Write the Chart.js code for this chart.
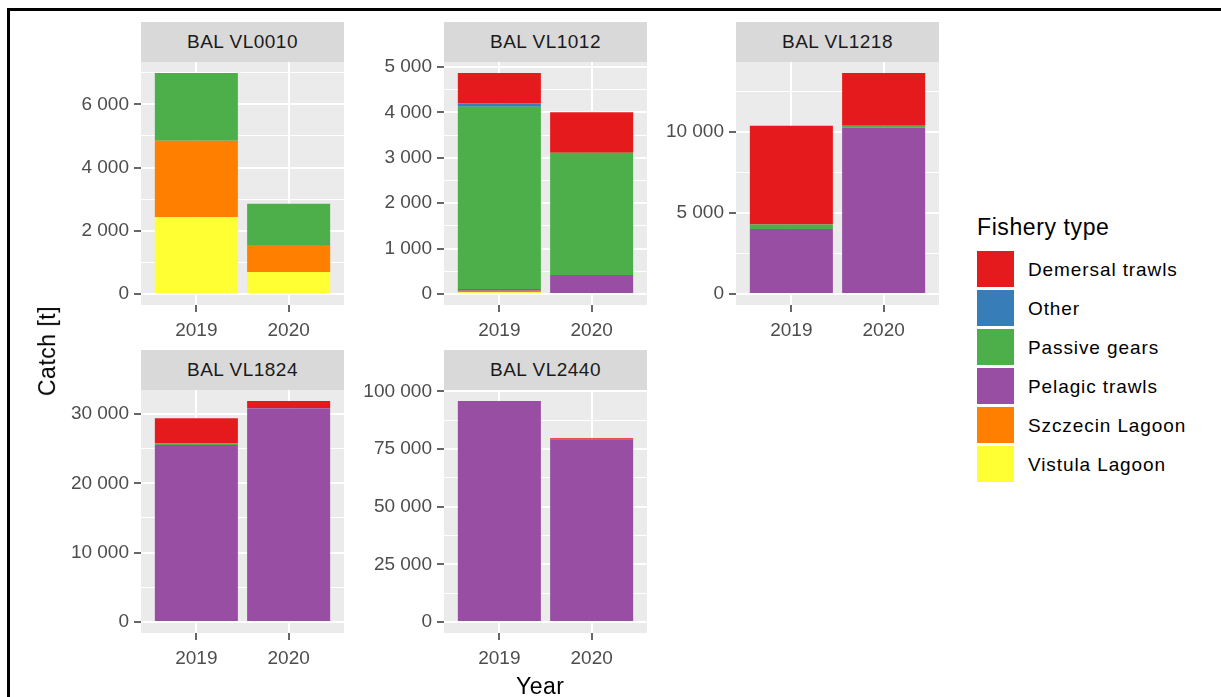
<!DOCTYPE html>
<html>
<head>
<meta charset="utf-8">
<script src="https://cdn.jsdelivr.net/npm/chart.js@4.4.1/dist/chart.umd.min.js"></script>
<style>
  html, body { margin: 0; padding: 0; background: #ffffff; }
  body { width: 1221px; height: 697px; overflow: hidden; position: relative; font-family: "Liberation Sans", Arial, sans-serif; }
  .frame-top { position: absolute; left: 7px; top: 8px; width: 1214px; height: 3px; background: #000; }
  .frame-left { position: absolute; left: 7px; top: 8px; width: 3px; height: 689px; background: #000; }
  .cv { position: absolute; }
  .strip { position: absolute; background: #D9D9D9; color: #1A1A1A; font-size: 19px; letter-spacing: 0.5px; display: flex; align-items: center; justify-content: center; white-space: nowrap; }
  .axis-title { position: absolute; color: #000; font-size: 23px; letter-spacing: 0.5px; white-space: nowrap; line-height: 26px; }
  .legend-title { position: absolute; left: 977px; top: 214px; font-size: 23px; letter-spacing: 0.6px; line-height: 26px; color: #000; white-space: nowrap; }
  .legend-key { position: absolute; left: 977px; width: 37px; height: 36px; }
  .legend-label { position: absolute; left: 1028px; font-size: 19px; letter-spacing: 0.9px; line-height: 36px; height: 36px; color: #000; white-space: nowrap; }
</style>
</head>
<body>
<div class="frame-top"></div>
<div class="frame-left"></div>
<div id="root"></div>
<script>
// ---- Data ----
const fleets = ['BAL VL0010', 'BAL VL1012', 'BAL VL1218', 'BAL VL1824', 'BAL VL2440'];
const years = ['2019', '2020'];
const fisheryTypes = ['Demersal trawls', 'Other', 'Passive gears', 'Pelagic trawls', 'Szczecin Lagoon', 'Vistula Lagoon'];
const typeColors = ['#E41A1C', '#377EB8', '#4DAF4A', '#984EA3', '#FF7F00', '#FFFF33'];

// catch [t] per fleet: [2019, 2020]
const demersalTrawls = [[0, 0], [670, 896], [6090, 3250], [3650, 1010], [0, 480]];
const otherGears     = [[0, 0], [73, 0], [0, 0], [0, 0], [0, 0]];
const passiveGears   = [[2140, 1300], [4016, 2692], [266, 105], [200, 30], [0, 0]];
const pelagicTrawls  = [[0, 0], [40, 419], [4012, 10265], [25530, 30820], [95790, 79170]];
const szczecinLagoon = [[2422, 856], [35, 0], [0, 0], [0, 0], [0, 0]];
const vistulaLagoon  = [[2430, 697], [35, 0], [0, 0], [0, 0], [0, 0]];

// y-axis major tick step per panel
const yTickSteps = [2000, 1000, 5000, 10000, 25000];

const seriesByType = [demersalTrawls, otherGears, passiveGears, pelagicTrawls, szczecinLagoon, vistulaLagoon];

// ---- Layout ----
const panelLeft = [141, 444, 736, 141, 444];
const panelTop = [62, 62, 62, 390, 390];
const panelW = 203, panelH = 243, stripH = 40;
const axisW = 120, axisH = 50, padTop = 20, padRight = 10;
const FONT = '"Liberation Sans", Arial, sans-serif';

function fmt(v) {
  return String(Math.round(v)).replace(/\B(?=(\d{3})+(?!\d))/g, ' ');
}

const panelBg = {
  id: 'panelBg',
  beforeDraw(chart) {
    const a = chart.chartArea, c = chart.ctx;
    c.save();
    c.fillStyle = '#EBEBEB';
    c.fillRect(a.left, a.top, a.right - a.left, a.bottom - a.top);
    c.restore();
  }
};

const root = document.getElementById('root');

fleets.forEach((fleet, i) => {
  const totals = years.map((y, j) => seriesByType.reduce((s, arr) => s + arr[i][j], 0));
  const maxTotal = Math.max(...totals);

  const wrap = document.createElement('div');
  wrap.className = 'cv';
  wrap.style.left = (panelLeft[i] - axisW) + 'px';
  wrap.style.top = (panelTop[i] - padTop) + 'px';
  const canvas = document.createElement('canvas');
  canvas.width = axisW + panelW + padRight;
  canvas.height = padTop + panelH + axisH;
  canvas.style.width = canvas.width + 'px';
  canvas.style.height = canvas.height + 'px';
  wrap.appendChild(canvas);
  root.appendChild(wrap);

  const datasets = fisheryTypes.map((name, t) => ({
    label: name,
    data: years.map((y, j) => ({ x: j + 1, y: seriesByType[t][i][j] })),
    backgroundColor: typeColors[t],
    borderWidth: 0,
    barPercentage: 0.9,
    categoryPercentage: 1
  })).reverse();

  new Chart(canvas.getContext('2d'), {
    type: 'bar',
    data: { datasets },
    plugins: [panelBg],
    options: {
      responsive: false,
      animation: false,
      events: [],
      layout: { padding: { top: padTop, right: padRight, left: 0, bottom: 0 } },
      plugins: { legend: { display: false }, tooltip: { enabled: false }, title: { display: false } },
      scales: {
        x: {
          type: 'linear',
          stacked: true,
          min: 0.4,
          max: 2.6,
          offset: false,
          afterBuildTicks: s => { s.ticks = years.map((y, j) => ({ value: j + 1 })); },
          afterFit: s => { s.height = axisH; },
          ticks: {
            autoSkip: false, maxRotation: 0, minRotation: 0, padding: 7,
            color: '#4D4D4D', font: { family: FONT, size: 19 },
            callback: (v, idx) => years[idx]
          },
          grid: { color: '#FFFFFF', lineWidth: 2, tickColor: '#333333', tickLength: 7, tickWidth: 1.5, offset: false, drawTicks: true },
          border: { display: false }
        },
        y: {
          type: 'linear',
          stacked: true,
          min: -0.05 * maxTotal,
          max: 1.05 * maxTotal,
          afterBuildTicks: s => {
            const st = yTickSteps[i];
            const ticks = [];
            for (let v = 0; v <= s.max; v += st / 2) {
              ticks.push({ value: v, isMajor: (v % st) === 0 });
            }
            s.ticks = ticks;
          },
          afterFit: s => { s.width = axisW; },
          ticks: {
            autoSkip: false, padding: 5,
            color: '#4D4D4D', font: { family: FONT, size: 19 },
            callback: (v, idx, ticks) => (ticks[idx] && ticks[idx].isMajor) ? fmt(v) : ''
          },
          grid: {
            color: '#FFFFFF',
            lineWidth: c => (c.tick && c.tick.isMajor) ? 2 : 1,
            tickColor: c => (c.tick && c.tick.isMajor) ? '#333333' : 'rgba(0,0,0,0)',
            tickLength: 7, tickWidth: 1.5, drawTicks: true, offset: false
          },
          border: { display: false }
        }
      }
    }
  });

  const strip = document.createElement('div');
  strip.className = 'strip';
  strip.style.left = panelLeft[i] + 'px';
  strip.style.top = (panelTop[i] - stripH) + 'px';
  strip.style.width = panelW + 'px';
  strip.style.height = stripH + 'px';
  strip.textContent = fleet;
  root.appendChild(strip);
});

// Axis titles
const yTitle = document.createElement('div');
yTitle.className = 'axis-title';
yTitle.textContent = 'Catch [t]';
root.appendChild(yTitle);
yTitle.style.left = (47 - yTitle.offsetWidth / 2) + 'px';
yTitle.style.top = (351 - yTitle.offsetHeight / 2) + 'px';
yTitle.style.transform = 'rotate(-90deg)';

const xTitle = document.createElement('div');
xTitle.className = 'axis-title';
xTitle.textContent = 'Year';
root.appendChild(xTitle);
xTitle.style.left = (540 - xTitle.offsetWidth / 2) + 'px';
xTitle.style.top = (686 - xTitle.offsetHeight / 2) + 'px';

// Legend
const lt = document.createElement('div');
lt.className = 'legend-title';
lt.textContent = 'Fishery type';
root.appendChild(lt);
fisheryTypes.forEach((name, t) => {
  const top = 251 + t * 39;
  const key = document.createElement('div');
  key.className = 'legend-key';
  key.style.top = top + 'px';
  key.style.background = typeColors[t];
  root.appendChild(key);
  const lab = document.createElement('div');
  lab.className = 'legend-label';
  lab.style.top = (top + 1) + 'px';
  lab.textContent = name;
  root.appendChild(lab);
});
</script>
</body>
</html>
